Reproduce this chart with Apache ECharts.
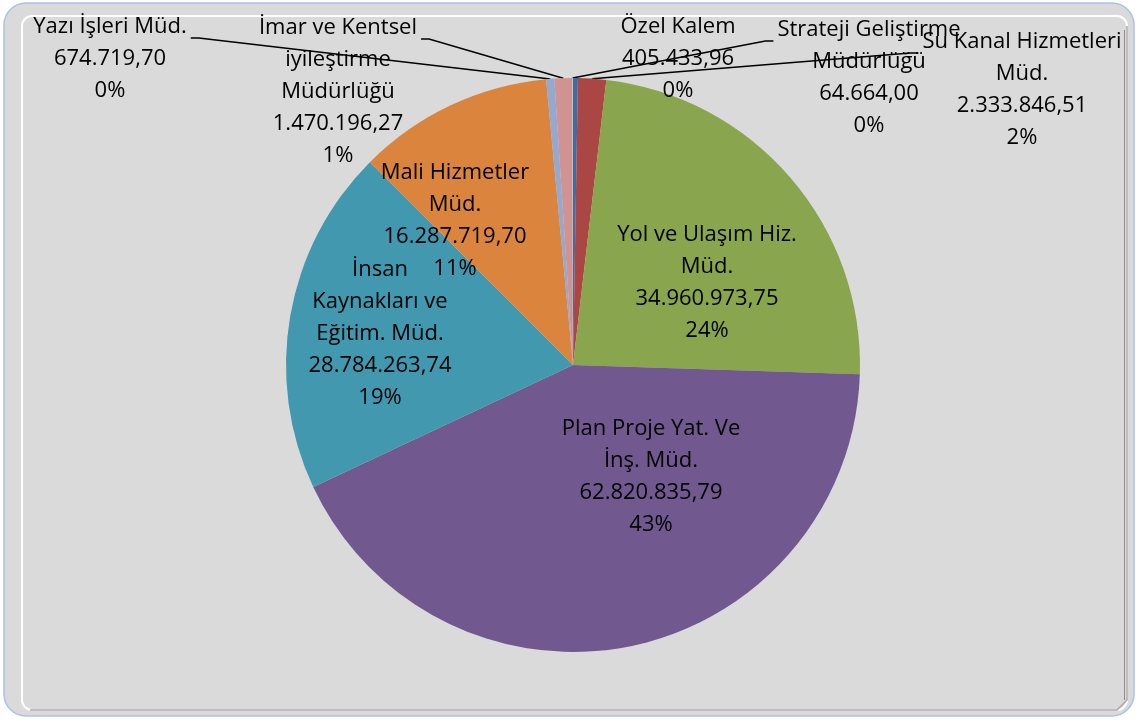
<!DOCTYPE html>
<html>
<head>
<meta charset="utf-8">
<script src="https://cdn.jsdelivr.net/npm/echarts@6/dist/echarts.min.js"></script>
<style>
  html, body { margin: 0; padding: 0; background: #fff; }
  #chart { width: 1138px; height: 720px; }
</style>
</head>
<body>
<div id="chart"></div>
<script>
// müdürlük adları (Excel'deki satır kırılımlarıyla)
const names = [
  'Özel Kalem',
  'Su Kanal Hizmetleri\nMüd.',
  'Yol ve Ulaşım Hiz.\nMüd.',
  'Plan Proje Yat. Ve\nİnş. Müd.',
  'İnsan\nKaynakları ve\nEğitim. Müd.',
  'Mali Hizmetler\nMüd.',
  'Yazı İşleri Müd.',
  'İmar ve Kentsel\niyileştirme\nMüdürlüğü',
  'Strateji Geliştirme\nMüdürlüğü'
];
const values = [
  405433.96, 2333846.51, 34960973.75, 62820835.79, 28784263.74,
  16287719.70, 674719.70, 1470196.27, 64664.00
];
const colors = [
  '#3F6CA8', '#AA4643', '#89A54E', '#71588F', '#4198AF',
  '#DB843D', '#93A9CF', '#D19392', '#B9CD96'
];
// dilimin içinde yazılan etiketler
const insideLabels = [2, 3, 4, 5];
// etiket merkezleri (x, y)
const labelAt = [
  [678, 59], [1022, 90], [707, 283], [651, 477], [380, 334],
  [455, 221], [110, 59], [338, 92], [869, 78]
];
const LINE_H = 32;

function fmtTR(v) {
  const parts = v.toFixed(2).split('.');
  return parts[0].replace(/\B(?=(\d{3})+(?!\d))/g, '.') + ',' + parts[1];
}

const chart = echarts.init(document.getElementById('chart'));

chart.setOption({
  animation: false,
  backgroundColor: '#ffffff',
  graphic: [
    {
      type: 'rect',
      shape: { x: 4, y: 3, width: 1130, height: 713, r: 22 },
      style: { fill: '#DADADA', stroke: '#A9C2E8', lineWidth: 1.5 },
      z: -10
    },
    {
      type: 'rect',
      shape: { x: 22, y: 16, width: 1105, height: 694, r: 10 },
      style: { fill: null, stroke: '#ffffff', lineWidth: 2 },
      z: -9
    },
    {
      type: 'polyline',
      shape: { points: [[30, 710], [1117, 710], [1127, 700], [1127, 26]] },
      style: { fill: null, stroke: '#A8A8A8', lineWidth: 1.5 },
      z: -8
    },
    {
      type: 'line',
      shape: { x1: 1124.5, y1: 30, x2: 1124.5, y2: 700 },
      style: { stroke: '#8C8C8C', lineWidth: 1 },
      z: -8
    }
  ],
  series: [
    {
      type: 'pie',
      center: [573, 365],
      radius: 287,
      startAngle: 90,
      clockwise: true,
      avoidLabelOverlap: false,
      silent: true,
      data: names.map((n, i) => ({
        name: n,
        value: values[i],
        itemStyle: { color: colors[i] },
        label: { position: insideLabels.includes(i) ? 'inside' : 'outside' },
        labelLine: { show: !insideLabels.includes(i) && i !== 0 }
      })),
      label: {
        show: true,
        color: '#000',
        fontFamily: 'Open Sans',
        fontSize: 22,
        lineHeight: LINE_H,
        align: 'center',
        formatter: p => p.name + '\n' + fmtTR(p.value) + '\n' + Math.round(p.percent) + '%'
      },
      labelLine: {
        length: 4,
        length2: 4,
        lineStyle: { color: '#000', width: 1.5 }
      },
      labelLayout: p => {
        const c = labelAt[p.dataIndex];
        const out = { x: c[0], y: c[1], align: 'center', verticalAlign: 'middle' };
        const pts = p.labelLinePoints;
        if (pts && !insideLabels.includes(p.dataIndex)) {
          // leader goes to the side of the first text line, like Excel
          const w = p.labelRect.width, h = p.labelRect.height;
          const dir = pts[0][0] < c[0] ? -1 : 1;
          const ex = c[0] + dir * (w / 2 + 4);
          const ey = c[1] - h / 2 + LINE_H / 2 + 11;
          out.labelLinePoints = [pts[0], [ex + dir * 8, ey], [ex, ey]];
        }
        return out;
      }
    }
  ]
});
</script>
</body>
</html>
